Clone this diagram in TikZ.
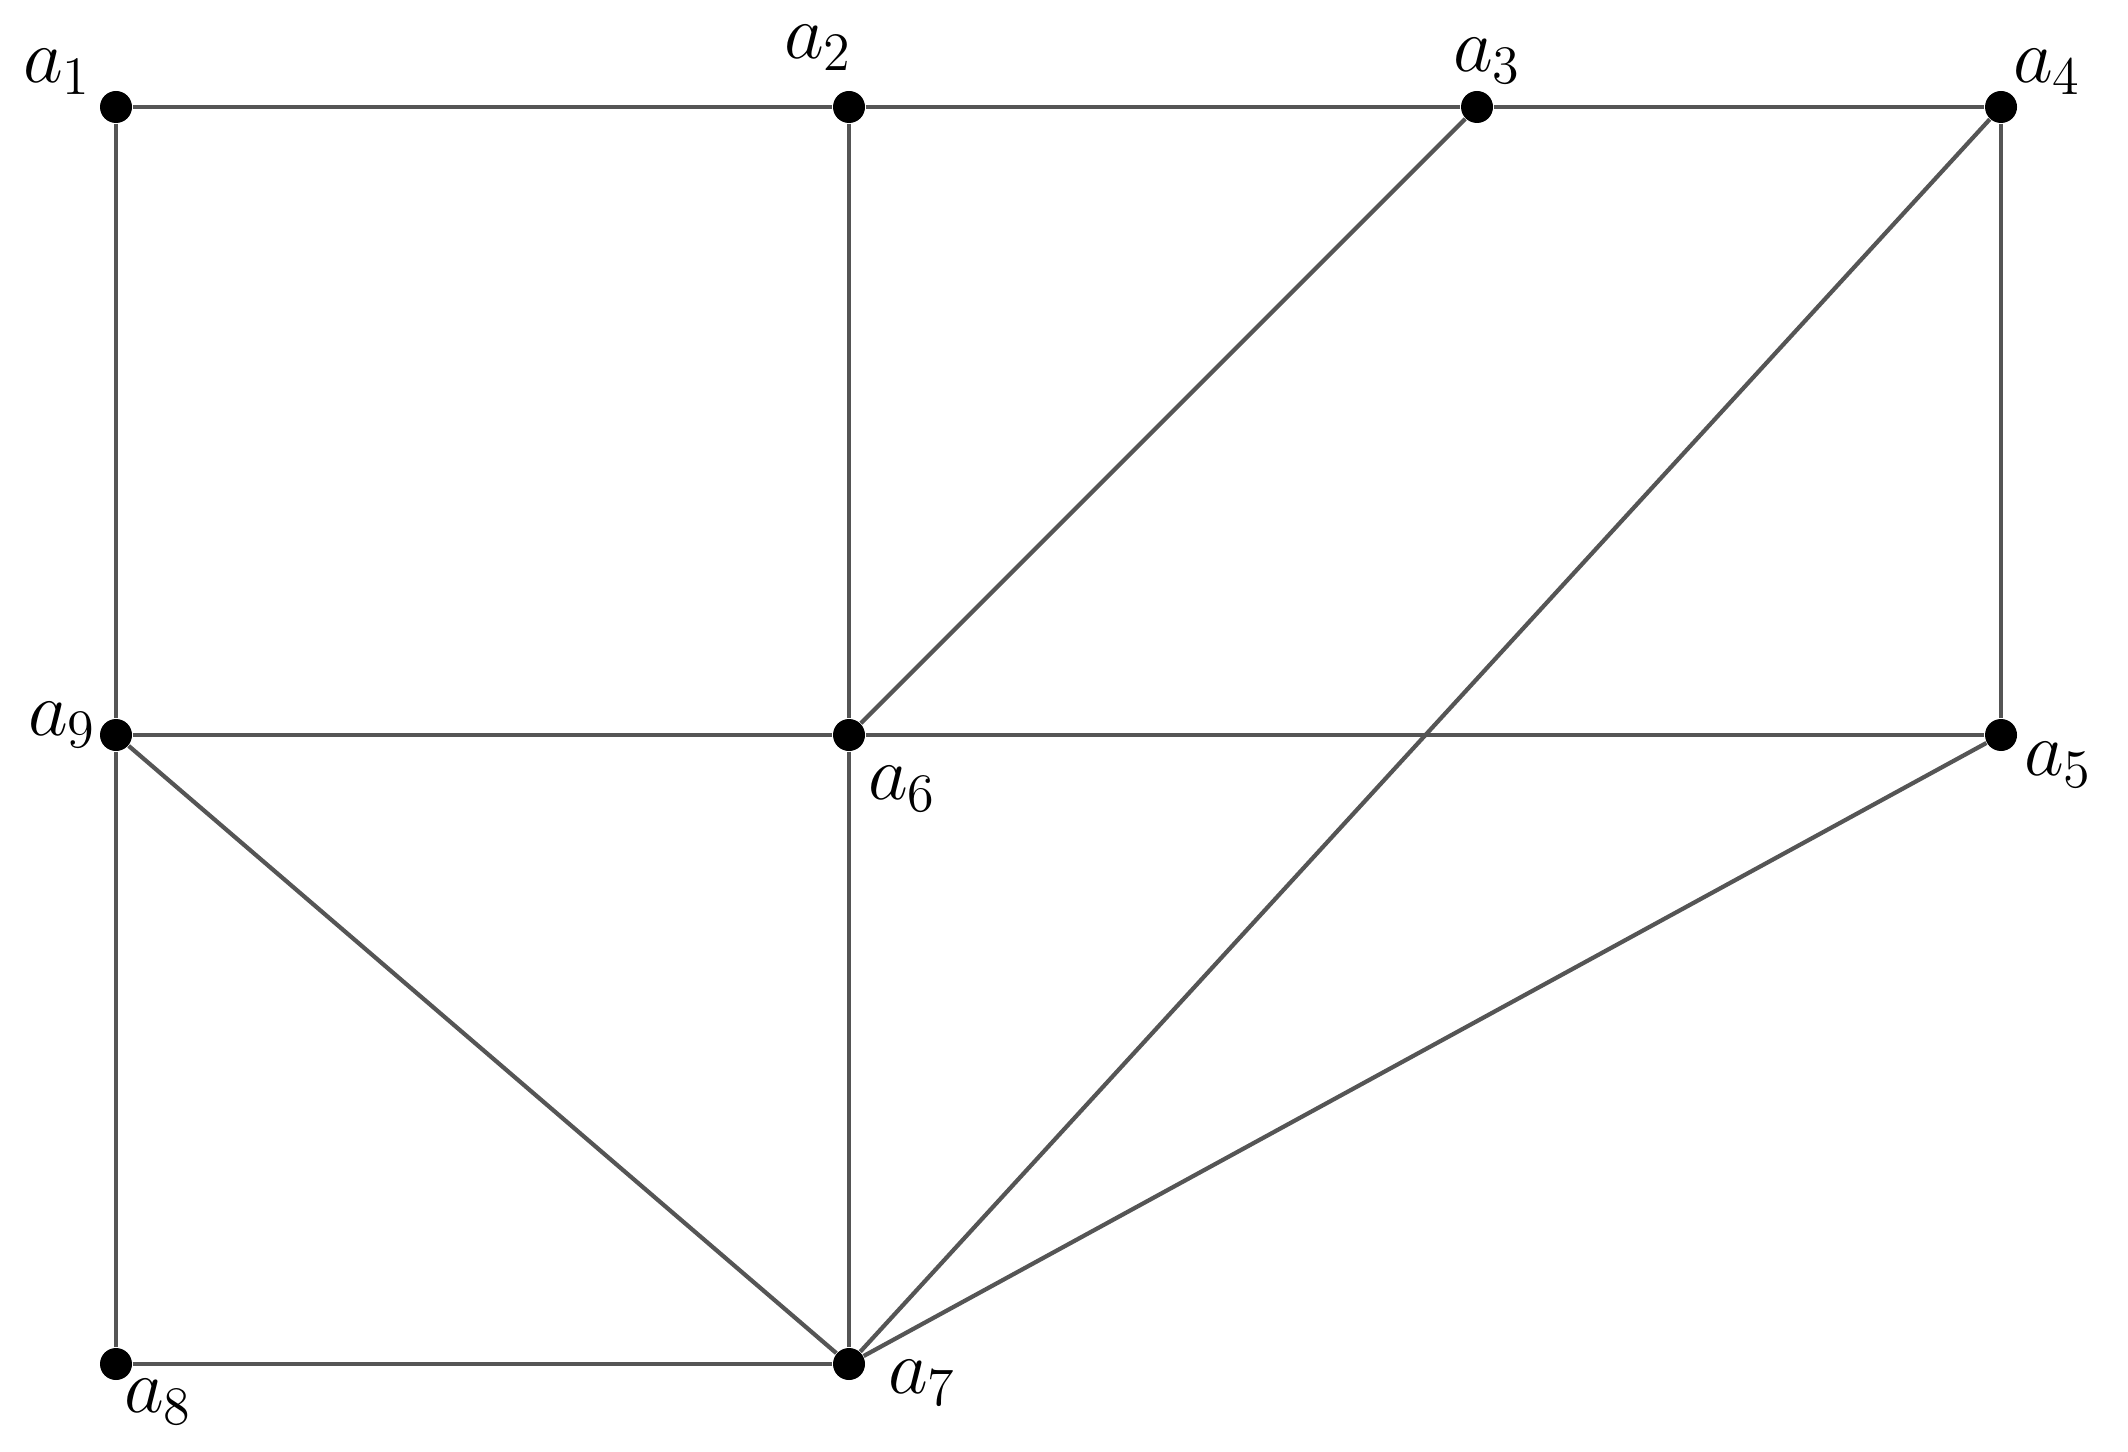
\RequirePackage{fix-cm}
\documentclass[tikz,border=0pt]{standalone}
\usepackage{tikz}
\usetikzlibrary{positioning}
\definecolor{edgegray}{HTML}{555555}

\tikzset{
  vert/.style={circle,fill=black,inner sep=0pt,minimum size=0.32cm},
  edge/.style={draw=edgegray,line width=1.2pt},
  lbl/.style={inner sep=0pt,font=\fontsize{22}{26}\selectfont}
}

\begin{document}
\begin{tikzpicture}

  % ---- Canvas -------------------------------------------------
  \useasboundingbox (0,0) rectangle (21.28,14.51);

  % ---- Vertices -----------------------------------------------
  \node[vert] (a1) at ( 1.16,13.44) {};
  \node[vert] (a2) at ( 8.49,13.44) {};
  \node[vert] (a3) at (14.77,13.44) {};
  \node[vert] (a4) at (20.01,13.44) {};
  \node[vert] (a5) at (20.01, 7.16) {};
  \node[vert] (a6) at ( 8.49, 7.16) {};
  \node[vert] (a7) at ( 8.49, 0.87) {};
  \node[vert] (a8) at ( 1.16, 0.87) {};
  \node[vert] (a9) at ( 1.16, 7.16) {};

  % ---- Edges --------------------------------------------------
  % outer frame
  \draw[edge] (a1) -- (a2);
  \draw[edge] (a2) -- (a3);
  \draw[edge] (a3) -- (a4);
  \draw[edge] (a4) -- (a5);
  \draw[edge] (a1) -- (a9);
  \draw[edge] (a9) -- (a8);
  \draw[edge] (a8) -- (a7);
  % middle row and column
  \draw[edge] (a9) -- (a6);
  \draw[edge] (a6) -- (a5);
  \draw[edge] (a2) -- (a6);
  \draw[edge] (a6) -- (a7);
  % diagonals
  \draw[edge] (a3) -- (a6);
  \draw[edge] (a4) -- (a7);
  \draw[edge] (a5) -- (a7);
  \draw[edge] (a9) -- (a7);

  % ---- Labels -------------------------------------------------
  \node[lbl] (l1) at ([shift={(-0.59, 0.35)}]a1) {$a_1$};
  \node[lbl] (l2) at ([shift={(-0.31, 0.59)}]a2) {$a_2$};
  \node[lbl] (l3) at ([shift={( 0.10, 0.46)}]a3) {$a_3$};
  \node[lbl] (l4) at ([shift={( 0.46, 0.35)}]a4) {$a_4$};
  \node[lbl] (l5) at ([shift={( 0.57,-0.30)}]a5) {$a_5$};
  \node[lbl] (l6) at ([shift={( 0.53,-0.54)}]a6) {$a_6$};
  \node[lbl] (l7) at ([shift={( 0.73,-0.19)}]a7) {$a_7$};
  \node[lbl] (l8) at ([shift={( 0.42,-0.38)}]a8) {$a_8$};
  \node[lbl] (l9) at ([shift={(-0.54, 0.10)}]a9) {$a_9$};

\end{tikzpicture}
\end{document}
